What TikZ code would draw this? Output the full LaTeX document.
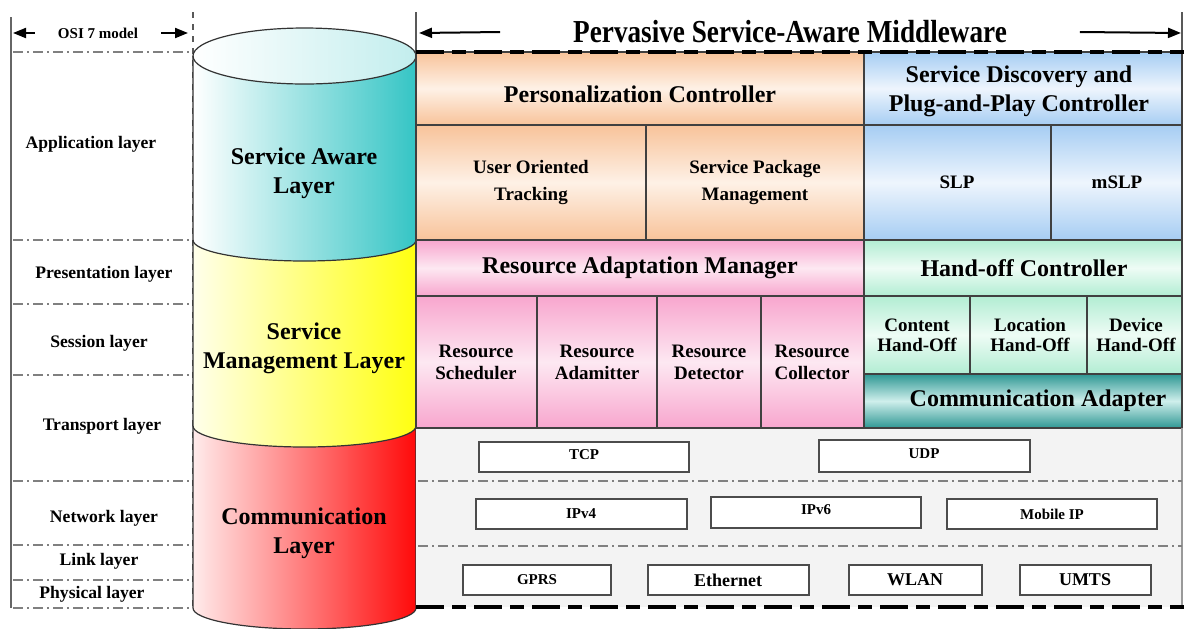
\documentclass[tikz,border=0pt]{standalone}
\usepackage{fontspec}
\setmainfont{Liberation Serif}
\newfontfamily\narrowserif[FakeStretch=0.85]{Liberation Serif}
\usetikzlibrary{arrows.meta,fit}
\definecolor{peachD}{HTML}{F8C39A}
\definecolor{peachL}{HTML}{FEF1E6}
\definecolor{blueD}{HTML}{A6CDF3}
\definecolor{blueL}{HTML}{EEF5FD}
\definecolor{pinkD}{HTML}{F8A6CE}
\definecolor{pinkL}{HTML}{FDE8F2}
\definecolor{mintD}{HTML}{B2EDD3}
\definecolor{mintL}{HTML}{EEFCF5}
\definecolor{tealD}{HTML}{2E9793}
\definecolor{tealL}{HTML}{CFEFEC}
\definecolor{cylcyan}{HTML}{35C5C5}
\definecolor{cylyel}{HTML}{FFFF10}
\definecolor{cylred}{HTML}{FF0A0A}
\definecolor{lgray}{HTML}{F3F3F3}
\tikzset{
  box/.style={draw=black!75, line width=0.6pt, inner sep=0pt, align=center,
    font=\bfseries\fontsize{9.5}{11}\selectfont},
  bigtxt/.style={font=\bfseries\fontsize{12}{14.5}\selectfont},
  peach/.style={top color=peachD, bottom color=peachD, middle color=peachL},
  bluef/.style={top color=blueD, bottom color=blueD, middle color=blueL},
  pinkf/.style={top color=pinkD, bottom color=pinkD, middle color=pinkL},
  mintf/.style={top color=mintD, bottom color=mintD, middle color=mintL},
  tealf/.style={top color=tealD, bottom color=tealD, middle color=tealL},
  wbox/.style={draw=black!70, fill=white, line width=0.7pt, inner sep=0pt},
  smalltxt/.style={font=\bfseries\fontsize{7.5}{9}\selectfont},
  midtxt/.style={font=\bfseries\fontsize{9}{10}\selectfont},
  osilbl/.style={font=\bfseries\fontsize{8.8}{10}\selectfont},
  cyltxt/.style={align=center, font=\bfseries\fontsize{12}{14.5}\selectfont},
  ddot/.style={draw=black!50, line width=0.6pt, dash pattern=on 5pt off 2pt on 1pt off 2pt},
  thickdash/.style={line width=1.6pt, dash pattern=on 14pt off 4pt on 7pt off 4pt},
  arr/.style={-{Triangle[length=6.5pt,width=5pt]}, line width=1pt},
  cylline/.style={draw=black!80, line width=0.6pt}
}
\begin{document}
\begin{tikzpicture}[x=0.5pt,y=-0.5pt]
\useasboundingbox (0,0) rectangle (1184,628);
\fill[white] (0,0) rectangle (1184,628);

% ---------- left OSI column ----------
\draw[black!60, line width=0.7pt] (11,17) -- (11,608);
\draw[black!65, line width=0.6pt, dashed] (193,12) -- (193,608);
\node[font=\bfseries\fontsize{7.5}{9}\selectfont] (osi) at (98,33) {OSI 7 model};
\coordinate (osiL) at (13,33);
\coordinate (osiR) at (188,33);
\draw[arr] ([xshift=-8pt]osi.west) -- (osiL);
\draw[arr] ([xshift=8pt]osi.east) -- (osiR);
\foreach \yy in {52,240,304,375,481,545,580,608}{
  \draw[ddot] (13,\yy) -- (193,\yy);
}
\node[osilbl] (app) at (91,144) {Application layer};
\node[osilbl] (pres) at (104,274) {Presentation layer};
\node[osilbl] (sess) at (99,343) {Session layer};
\node[osilbl] (trans) at (102,426) {Transport layer};
\node[osilbl] (net) at (104,518) {Network layer};
\node[osilbl] (link) at (99,561) {Link layer};
\node[osilbl] (phys) at (92,594) {Physical layer};

% ---------- cylinder ----------
\shade[left color=red!8, right color=cylred]
  (193,426) arc[start angle=180,end angle=360,x radius=55.75pt,y radius=10.5pt]
  -- (416,608) arc[start angle=0,end angle=-180,x radius=55.75pt,y radius=10.5pt] -- cycle;
\shade[left color=yellow!8, right color=cylyel]
  (193,240) arc[start angle=180,end angle=360,x radius=55.75pt,y radius=10.5pt]
  -- (416,426) arc[start angle=0,end angle=-180,x radius=55.75pt,y radius=10.5pt] -- cycle;
\shade[left color=white, right color=cylcyan]
  (193,56) -- (193,240) arc[start angle=180,end angle=360,x radius=55.75pt,y radius=10.5pt]
  -- (416,56) arc[start angle=0,end angle=180,x radius=55.75pt,y radius=14pt] -- cycle;
\shade[left color=white, right color=cylcyan!30] (304.5,56) ellipse[x radius=55.75pt,y radius=14pt];
\draw[cylline] (304.5,56) ellipse[x radius=55.75pt,y radius=14pt];
\draw[cylline] (193,56) -- (193,608) arc[start angle=180,end angle=360,x radius=55.75pt,y radius=10.5pt] -- (416,56);
\draw[cylline] (193,240) arc[start angle=180,end angle=360,x radius=55.75pt,y radius=10.5pt];
\draw[cylline] (193,426) arc[start angle=180,end angle=360,x radius=55.75pt,y radius=10.5pt];
\node[cyltxt] (sal) at (304,173) {Service Aware\\Layer};
\node[cyltxt] (sml) at (304,348) {Service\\Management Layer};
\node[cyltxt] (cml) at (304,533) {Communication\\Layer};

% ---------- header ----------
\draw[black!65, line width=0.7pt] (416,12) -- (416,52);
\draw[black!65, line width=0.7pt] (1182,12) -- (1182,52);
\node[font=\narrowserif\bfseries\fontsize{16}{18}\selectfont] (hdr) at (790,32) {Pervasive Service-Aware Middleware};
\coordinate (hdrL) at (419,33);
\coordinate (hdrR) at (1181,33);
\draw[arr] ([xshift=-33pt]hdr.west) -- (hdrL);
\draw[arr] ([xshift=33pt]hdr.east) -- (hdrR);

% ---------- service aware part ----------
\node[box, peach, fit={(416,52) (864,125)}] (pc) {};
\node[bigtxt] (pct) at (640,94) {Personalization Controller};
\node[box, peach, fit={(416,125) (646,240)}] (uot) {};
\node[font=\bfseries\fontsize{9.5}{13.5}\selectfont, align=center] (uott) at (531,182) {User Oriented\\Tracking};
\node[box, peach, fit={(646,125) (864,240)}] (spm) {};
\node[font=\bfseries\fontsize{9.5}{13.5}\selectfont, align=center] (spmt) at (755,182) {Service Package\\Management};
\node[box, bluef, fit={(864,52) (1182,125)}] (sdp) {};
\node[cyltxt] (sdpt) at (1019,91) {Service Discovery and\\Plug-and-Play Controller};
\node[box, bluef, fit={(864,125) (1051,240)}] (slp) {};
\node[font=\bfseries\fontsize{9.5}{11}\selectfont] (slpt) at (957,182) {SLP};
\node[box, bluef, fit={(1051,125) (1182,240)}] (mslp) {};
\node[font=\bfseries\fontsize{9.5}{11}\selectfont] (mslpt) at (1117,182) {mSLP};

% ---------- service management part ----------
\node[box, pinkf, fit={(416,240) (864,296)}] (ram) {};
\node[bigtxt] (ramt) at (640,268) {Resource Adaptation Manager};
\node[box, pinkf, fit={(416,296) (537,428)}] (rs) {};
\node[font=\bfseries\fontsize{9.5}{11}\selectfont, align=center] (rst) at (476,362) {Resource\\Scheduler};
\node[box, pinkf, fit={(537,296) (657,428)}] (ra) {};
\node[font=\bfseries\fontsize{9.5}{11}\selectfont, align=center] (rat) at (597,362) {Resource\\Adamitter};
\node[box, pinkf, fit={(657,296) (761,428)}] (rd) {};
\node[font=\bfseries\fontsize{9.5}{11}\selectfont, align=center] (rdt) at (709,362) {Resource\\Detector};
\node[box, pinkf, fit={(761,296) (864,428)}] (rc) {};
\node[font=\bfseries\fontsize{9.5}{11}\selectfont, align=center] (rct) at (812,362) {Resource\\Collector};
\node[box, mintf, fit={(864,240) (1182,296)}] (hoc) {};
\node[bigtxt] (hoct) at (1024,268) {Hand-off Controller};
\node[box, mintf, fit={(864,296) (970,374)}] (cho) {};
\node[font=\bfseries\fontsize{9.5}{10}\selectfont, align=center] (chot) at (917,335) {Content\\Hand-Off};
\node[box, mintf, fit={(970,296) (1087,374)}] (lho) {};
\node[font=\bfseries\fontsize{9.5}{10}\selectfont, align=center] (lhot) at (1030,335) {Location\\Hand-Off};
\node[box, mintf, fit={(1087,296) (1182,374)}] (dho) {};
\node[font=\bfseries\fontsize{9.5}{10}\selectfont, align=center] (dhot) at (1136,335) {Device\\Hand-Off};
\node[box, tealf, fit={(864,374) (1182,428)}] (ca) {};
\node[bigtxt] (cat) at (1038,401) {Communication Adapter};

% ---------- communication part ----------
\node[fill=lgray, inner sep=0pt, fit={(416,428) (1182,607)}] (commreg) {};
\draw[black!75, line width=0.6pt] (416,428) -- (1182,428);
\draw[black!40, line width=0.6pt] (1182,428) -- (1182,607);
\draw[ddot] (418,481) -- (1182,481);
\draw[ddot] (418,546) -- (1182,546);
\node[wbox, fit={(479,442) (689,472)}] (tcp) {};
\node[smalltxt] (tcpt) at (584,455) {TCP};
\node[wbox, fit={(819,440) (1030,472)}] (udp) {};
\node[smalltxt] (udpt) at (924,454) {UDP};
\node[wbox, fit={(476,499) (687,529)}] (ipv4) {};
\node[smalltxt] (ipv4t) at (581,514) {IPv4};
\node[wbox, fit={(711,497) (921,528)}] (ipv6) {};
\node[smalltxt] (ipv6t) at (816,510) {IPv6};
\node[wbox, fit={(947,499) (1157,529)}] (mip) {};
\node[smalltxt] (mipt) at (1052,514) {Mobile IP};
\node[wbox, fit={(463,565) (611,595)}] (gprs) {};
\node[smalltxt] (gprst) at (537,580) {GPRS};
\node[wbox, fit={(648,565) (809,595)}] (eth) {};
\node[midtxt] (etht) at (728,580) {Ethernet};
\node[wbox, fit={(849,565) (982,595)}] (wlan) {};
\node[midtxt] (wlant) at (915,580) {WLAN};
\node[wbox, fit={(1020,565) (1151,595)}] (umts) {};
\node[midtxt] (umtst) at (1085,580) {UMTS};

% ---------- thick dashed borders ----------
\draw[thickdash] (416,52) -- (1184,52);
\draw[thickdash] (416,607) -- (1184,607);
\end{tikzpicture}
\end{document}
